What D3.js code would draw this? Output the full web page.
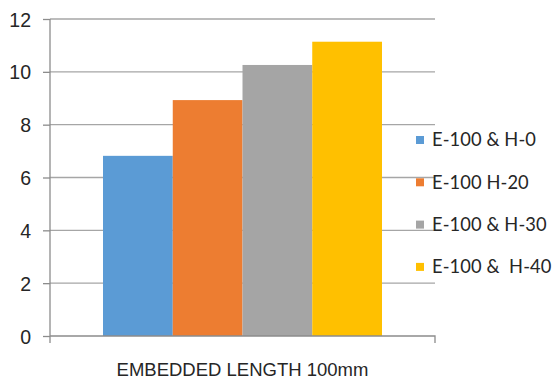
<!DOCTYPE html>
<html>
<head>
<meta charset="utf-8">
<script src="https://cdn.jsdelivr.net/npm/d3@7"></script>
<style>
  html, body { margin: 0; padding: 0; background: #fff; }
  svg { display: block; font-family: Lato, "Open Sans", sans-serif; }
</style>
</head>
<body>
<svg id="chart" width="557" height="383"></svg>
<script>
// Pull-out results for 100 mm embedded length
const categories = ["EMBEDDED LENGTH 100mm"];
const seriesNames = ["E-100 & H-0", "E-100 H-20", "E-100 & H-30", "E-100 &  H-40"];
const seriesValues = [6.82, 8.93, 10.26, 11.14];
const seriesColors = ["#5B9BD5", "#ED7D31", "#A5A5A5", "#FFC000"];
const yTicks = [0, 2, 4, 6, 8, 10, 12];

const svg = d3.select("#chart");
const margin = { left: 50, right: 122, top: 19, bottom: 47 };
const W = 557, H = 383;
const plotW = W - margin.left - margin.right;
const plotH = H - margin.top - margin.bottom;

const g = svg.append("g").attr("transform", `translate(${margin.left},${margin.top})`);

const y = d3.scaleLinear().domain([0, 12]).range([plotH, 0]);
const x0 = d3.scaleBand().domain(categories).range([0, plotW]).paddingInner(0).paddingOuter(0.19);
const x1 = d3.scaleBand().domain(seriesNames).range([0, x0.bandwidth()]).padding(0);

// horizontal gridlines
g.append("g").selectAll("line").data(yTicks.filter(d => d > 0)).join("line")
  .attr("x1", 0).attr("x2", plotW)
  .attr("y1", d => y(d)).attr("y2", d => y(d))
  .attr("stroke", "#a6a6a6").attr("stroke-width", 1.3);

// y axis with outward ticks
const yAxis = g.append("g").call(d3.axisLeft(y).tickValues(yTicks).tickSize(7).tickPadding(12).tickFormat(d3.format("d")));
yAxis.select(".domain").attr("stroke", "#8c8c8c").attr("stroke-width", 1.3).attr("d", `M0,${plotH + 7}V0`);
yAxis.selectAll(".tick line").attr("stroke", "#8c8c8c").attr("stroke-width", 1.3);
yAxis.selectAll(".tick text").attr("fill", "#262626").style("font-size", "19.5px").attr("dy", "0.36em");

// bars
const bars = g.append("g").selectAll("g").data(categories).join("g")
  .attr("transform", d => `translate(${x0(d)},0)`);
bars.selectAll("rect").data(seriesNames.map((n, i) => ({ name: n, value: seriesValues[i], color: seriesColors[i] })))
  .join("rect")
  .attr("x", d => x1(d.name))
  .attr("width", x1.bandwidth())
  .attr("y", d => y(d.value))
  .attr("height", d => plotH - y(d.value))
  .attr("fill", d => d.color);

// x axis
const xAxis = g.append("g").attr("transform", `translate(0,${plotH})`)
  .call(d3.axisBottom(x0).tickSize(0).tickPadding(27));
xAxis.select(".domain").attr("stroke", "#8c8c8c").attr("stroke-width", 1.3).attr("d", `M0,0H${plotW}V7`);
xAxis.selectAll(".tick text").attr("fill", "#262626").style("font-size", "18.5px");

// legend
const legend = svg.append("g").attr("transform", "translate(416,140)");
const items = legend.selectAll("g").data(seriesNames).join("g")
  .attr("transform", (d, i) => `translate(0,${i * 42.3})`);
items.append("rect").attr("x", 0).attr("y", -4).attr("width", 8).attr("height", 8)
  .attr("fill", (d, i) => seriesColors[i]);
items.append("text").attr("x", 16).attr("y", 0).attr("dy", "0.35em")
  .attr("fill", "#262626").style("font-size", "18.3px").style("letter-spacing", "0.1px")
  .style("white-space", "pre")
  .text(d => d);
</script>
</body>
</html>
